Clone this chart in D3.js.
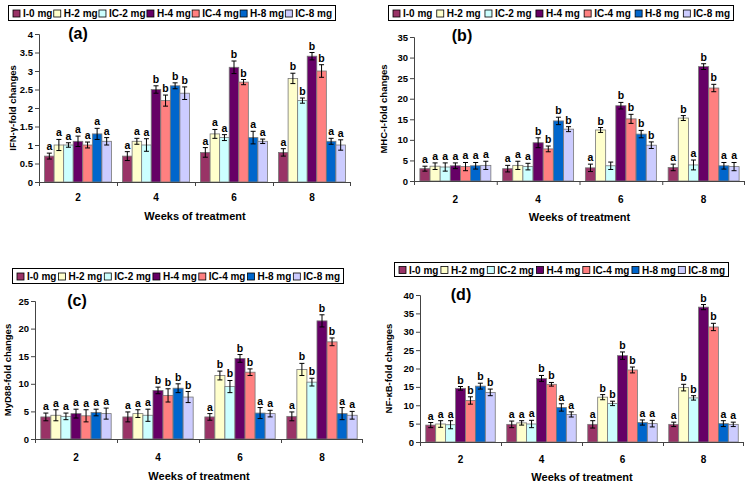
<!DOCTYPE html>
<html><head><meta charset="utf-8">
<script src="https://cdn.jsdelivr.net/npm/d3@7"></script>
<style>body{margin:0;background:#fff}svg{display:block;font-family:"Liberation Sans",Arial,sans-serif;font-weight:bold}</style>
</head><body><svg id="c" width="746" height="483"></svg>
<script>
const weeks = ["2","4","6","8"];
const groups = ["I-0 mg","H-2 mg","IC-2 mg","H-4 mg","IC-4 mg","H-8 mg","IC-8 mg"];
const colors = ["#993366","#FFFFCC","#CCFFFF","#660066","#FF8080","#0066CC","#CCCCFF"];

// IFN-γ (a)
const ifnVals = [[0.7,1.0,1.0,1.1,1.0,1.3,1.1],[0.7,1.1,1.0,2.5,2.2,2.6,2.4],[0.8,1.3,1.2,3.1,2.7,1.2,1.1],[0.8,2.8,2.2,3.4,3.0,1.1,1.0]];
const ifnErr = [[0.08,0.15,0.06,0.14,0.08,0.15,0.1],[0.12,0.08,0.17,0.1,0.15,0.08,0.17],[0.13,0.12,0.08,0.17,0.07,0.17,0.06],[0.1,0.14,0.07,0.1,0.17,0.08,0.14]];
const ifnLet = [["a","a","a","a","a","a","a"],["a","a","a","b","b","b","b"],["a","a","a","b","b","a","a"],["a","b","b","b","b","a","a"]];
// MHC-I (b)
const mhcVals = [[3.0,3.6,3.4,3.7,3.5,3.7,3.8],[3.0,3.8,3.5,9.3,7.8,14.6,12.6],[3.2,12.4,3.7,18.3,15.1,11.4,8.7],[3.3,15.3,3.9,27.8,22.6,3.7,3.5]];
const mhcErr = [[0.6,0.8,1.0,0.7,1.0,0.8,1.0],[0.8,1.0,0.8,1.2,0.7,0.9,0.6],[0.9,0.6,0.9,0.8,1.1,0.9,0.8],[0.8,0.6,1.2,0.7,0.9,0.8,1.0]];
const mhcLet = [["a","a","a","a","a","a","a"],["a","a","a","b","b","b","b"],["a","b","","b","b","b","b"],["a","b","a","b","b","a","a"]];
// MyD88 (c)
const mydVals = [[4.0,4.3,4.1,4.6,4.2,4.8,4.6],[4.0,4.6,4.3,8.8,7.9,9.2,7.6],[4.0,11.5,9.5,14.6,12.1,4.7,4.6],[4.1,12.6,10.3,21.4,17.6,4.6,4.3]];
const mydErr = [[0.7,1.0,0.6,0.8,1.1,0.6,1.0],[0.9,0.7,1.1,0.6,1.2,0.8,1.0],[0.6,0.8,1.1,0.7,0.6,1.0,0.6],[0.8,1.1,0.7,1.1,0.7,1.1,0.7]];
const mydLet = [["a","a","a","a","a","a","a"],["a","a","a","b","b","b","b"],["a","b","b","b","b","a","a"],["a","b","b","b","b","a","a"]];
// NF-κB (d)
const nfVals = [[4.6,4.9,4.7,14.6,11.3,15.2,13.5],[4.8,5.2,4.9,17.3,15.7,9.4,7.5],[4.8,12.2,10.5,23.5,19.6,5.3,5.0],[4.8,14.8,12.0,36.7,31.3,5.0,4.8]];
const nfErr = [[0.7,0.9,1.1,0.5,1.0,0.8,0.9],[0.9,0.6,1.0,0.8,0.5,1.0,0.7],[1.0,0.7,0.6,1.0,0.8,0.7,0.9],[0.6,0.9,0.6,0.7,1.0,0.8,0.6]];
const nfLet = [["a","a","a","b","b","b","b"],["a","a","a","b","b","a","a"],["a","b","b","b","b","a","a"],["a","b","b","b","b","a","a"]];

const panels = [
  {tag:"(a)", ylab:"IFN-\u03B3-fold changes", vals:ifnVals, err:ifnErr, let:ifnLet, max:4, step:0.5,
   x0:39, x1:351, yt:34, yb:182, leg:[8,335,5,20], tx:78, ty:39, ylx:13, catY:201, wotY:220},
  {tag:"(b)", ylab:"MHC-I-fold changes", vals:mhcVals, err:mhcErr, let:mhcLet, max:35, step:5,
   x0:414, x1:745, yt:37, yb:181, leg:[388,733,5,20], tx:462, ty:41, ylx:384, catY:203, wotY:221},
  {tag:"(c)", ylab:"MyD88-fold changes", vals:mydVals, err:mydErr, let:mydLet, max:25, step:5,
   x0:35, x1:363, yt:301, yb:439, leg:[12,343,268,283], tx:77, ty:306, ylx:8, catY:461, wotY:480},
  {tag:"(d)", ylab:"NF-\u03BAB-fold changes", vals:nfVals, err:nfErr, let:nfLet, max:40, step:5,
   x0:420, x1:744, yt:295, yb:442, leg:[394,728,262,276], tx:461, ty:300, ylx:389, catY:463, wotY:481}
];

const svg = d3.select("#c");

panels.forEach(p => {
  const g = svg.append("g");
  const y = d3.scaleLinear().domain([0,p.max]).range([p.yb,p.yt]);
  const x = d3.scaleBand().domain(weeks).range([p.x0,p.x1]).padding(0);
  const xi = d3.scaleBand().domain(groups).range([0,x.bandwidth()]).paddingOuter(0.58).paddingInner(0);

  // axes
  const ticks = d3.range(0, p.max + p.step/2, p.step);
  const ya = g.append("g").attr("transform",`translate(${p.x0},0)`)
    .call(d3.axisLeft(y).tickValues(ticks).tickSize(4).tickPadding(2)
      .tickFormat(d => d3.format("")(+d.toFixed(1))));
  ya.selectAll("text").attr("font-size",9.5).attr("font-weight","bold").attr("fill","#000")
    .attr("font-family","Liberation Sans, Arial, sans-serif");
  ya.selectAll("line").attr("stroke","#444");
  ya.select(".domain").attr("stroke","#444").attr("d",`M-4,${p.yt+0.5}H0.5V${p.yb}`);

  // bars
  p.vals.forEach((row,wi) => {
    const wk = weeks[wi];
    const gg = g.append("g").attr("transform",`translate(${x(wk)},0)`);
    row.forEach((v,si) => {
      const bx = xi(groups[si]), bw = xi.bandwidth();
      gg.append("rect").attr("x",bx).attr("y",y(v)).attr("width",bw).attr("height",y(0)-y(v))
        .attr("fill",colors[si]).attr("stroke","#777").attr("stroke-width",0.8);
      const e = p.err[wi][si], cx = bx + bw/2;
      const top = y(v+e), bot = y(v-e);
      gg.append("path").attr("d",`M${cx},${top}V${bot}M${cx-2.5},${top}H${cx+2.5}M${cx-2.5},${bot}H${cx+2.5}`)
        .attr("stroke","#000").attr("stroke-width",1).attr("fill","none");
      const l = p.let[wi][si];
      if (l) gg.append("text").attr("x",cx).attr("y",top-3).attr("text-anchor","middle")
        .attr("font-size",10.5).attr("fill","#000").text(l);
    });
  });

  // x axis
  g.append("line").attr("x1",p.x0).attr("x2",p.x1).attr("y1",p.yb+0.5).attr("y2",p.yb+0.5).attr("stroke","#444");
  weeks.forEach(w => {
    g.append("line").attr("x1",x(w)+0.5).attr("x2",x(w)+0.5).attr("y1",p.yb).attr("y2",p.yb+4).attr("stroke","#444");
    g.append("text").attr("x",x(w)+x.bandwidth()/2).attr("y",p.catY).attr("text-anchor","middle")
      .attr("font-size",10).text(w);
  });
  g.append("line").attr("x1",p.x1-0.5).attr("x2",p.x1-0.5).attr("y1",p.yb).attr("y2",p.yb+4).attr("stroke","#444");
  g.append("text").attr("x",(p.x0+p.x1)/2).attr("y",p.wotY).attr("text-anchor","middle")
    .attr("font-size",11).text("Weeks of treatment");

  // y label
  g.append("text").attr("transform",`translate(${p.ylx},${(p.yt+p.yb)/2}) rotate(-90)`)
    .attr("text-anchor","middle").attr("dy","0.35em").attr("font-size",9.5).text(p.ylab);

  // title
  g.append("text").attr("x",p.tx).attr("y",p.ty).attr("text-anchor","middle").attr("font-size",16).text(p.tag);

  // legend
  const [lx0,lx1,ly0,ly1] = p.leg;
  g.append("rect").attr("x",lx0+0.5).attr("y",ly0+0.5).attr("width",lx1-lx0).attr("height",ly1-ly0)
    .attr("fill","#fff").attr("stroke","#000").attr("stroke-width",1);
  const items = groups.map((name,i) => {
    const t = g.append("text").attr("font-size",10).attr("y",(ly0+ly1)/2+1).attr("dy","0.35em").text(name);
    return {t, w:t.node().getComputedTextLength(), i};
  });
  const mk = 7, gap = 3, pad = 4;
  const total = d3.sum(items, d => mk+gap+d.w);
  const sp = (lx1-lx0-2*pad-total)/(groups.length-1);
  let cx = lx0+pad+1;
  items.forEach(d => {
    g.append("rect").attr("x",cx).attr("y",(ly0+ly1)/2-2.5).attr("width",mk).attr("height",mk)
      .attr("fill",colors[d.i]).attr("stroke","#000").attr("stroke-width",0.8);
    d.t.attr("x",cx+mk+gap);
    cx += mk+gap+d.w+sp;
  });
});
</script></body></html>
